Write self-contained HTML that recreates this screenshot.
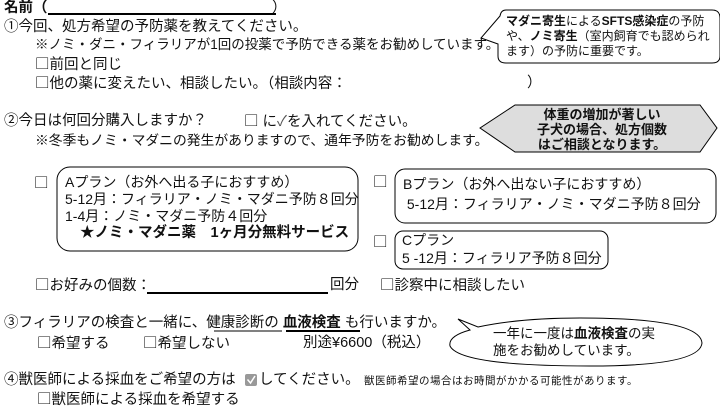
<!DOCTYPE html>
<html><head><meta charset="utf-8"><style>
body{margin:0;width:720px;height:405px;background:#fff;position:relative;overflow:hidden;font-family:"Liberation Sans","Noto Sans CJK JP",sans-serif;color:#111}
.t{position:absolute;font-size:14.5px;white-space:nowrap;line-height:16px}
.m{font-size:14px;line-height:18px}
.c{font-family:"Noto Sans CJK JP",sans-serif}
b{font-weight:bold}
svg{position:absolute;left:0;top:0}
</style></head><body>
<svg width="720" height="405">
<line x1="48" y1="14" x2="276" y2="14" stroke="#000" stroke-width="2"/>
<path d="M506,10 H712 Q720,10 720,18 V56 Q720,63 712,63 H506 Q498,63 498,56 V44 L481,38 L500,16 Q501,10 506,10 Z" fill="#fff" stroke="#000" stroke-width="1"/>
<polygon points="480,128 515,105 700,105 717,128 700,152 515,152" fill="#ddd" stroke="#000" stroke-width="1"/>
<rect x="57" y="167" width="301" height="84" rx="13" fill="none" stroke="#000"/>
<rect x="395" y="169" width="321" height="54" rx="10" fill="none" stroke="#000"/>
<rect x="395" y="231" width="213" height="38" rx="8" fill="none" stroke="#000"/>
<line x1="147" y1="293" x2="328" y2="293" stroke="#000" stroke-width="2"/>
<line x1="214" y1="331" x2="282" y2="331" stroke="#000"/>
<line x1="286" y1="331" x2="360" y2="331" stroke="#000" stroke-width="2"/>
<path d="M458,319 L478,327 Q520,318 580,318 Q700,318 702,343 Q700,366 590,366 Q460,366 450,346 Q448,336 470,330 Z" fill="#fff" stroke="#000"/>
<rect x="245" y="374" width="12" height="12" rx="2" fill="#999"/>
<path d="M247.5,379.5 L250.5,383 L255,376" fill="none" stroke="#fff" stroke-width="1.5"/>
</svg>
<div class="t" style="left:4px;top:0px;font-weight:bold">名前（</div>
<div class="t" style="left:272px;top:0px">）</div>
<div class="t" style="left:4px;top:19px">①今回、処方希望の予防薬を教えてください。</div>
<div class="t" style="left:35px;top:37px;font-size:13.5px">※ノミ・ダニ・フィラリアが1回の投薬で予防できる薬をお勧めしています。</div>
<div class="t" style="left:35px;top:56px"><span class="c">□</span>前回と同じ</div>
<div class="t" style="left:35px;top:75px"><span class="c">□</span>他の薬に変えたい、相談したい。（相談内容：</div>
<div class="t" style="left:527px;top:75px">）</div>
<div class="t" style="left:506px;top:14px;line-height:15px;font-size:12px"><b>マダニ寄生</b>による<b>SFTS感染症</b>の予防<br>や、<b>ノミ寄生</b>（室内飼育でも認められ<br>ます）の予防に重要です。</div>
<div class="t" style="left:4px;top:113px">②今日は何回分購入しますか？</div>
<div class="t" style="left:244px;top:113px"><span class="c">□</span> に<span style="color:#555">✓</span>を入れてください。</div>
<div class="t" style="left:35px;top:133px;font-size:13.8px">※冬季もノミ・マダニの発生がありますので、通年予防をお勧めします。</div>
<div class="t" style="left:522px;top:107px;font-weight:bold;line-height:15px;text-align:center;font-size:13px;width:160px">体重の増加が著しい<br>子犬の場合、処方個数<br>はご相談となります。</div>
<div class="t c" style="left:34px;top:175px">□</div>
<div class="t m" style="left:65px;top:174px;line-height:17px">Aプラン（お外へ出る子におすすめ）<br>5-12月：フィラリア・ノミ・マダニ予防８回分<br>1-4月：ノミ・マダニ予防４回分</div>
<div class="t" style="left:80px;top:225px;font-weight:bold">★ノミ・マダニ薬　1ヶ月分無料サービス</div>
<div class="t c" style="left:373px;top:174px">□</div>
<div class="t m" style="left:403px;top:174px;line-height:20px">Bプラン（お外へ出ない子におすすめ）<br>&nbsp;5-12月：フィラリア・ノミ・マダニ予防８回分</div>
<div class="t c" style="left:373px;top:234px">□</div>
<div class="t m" style="left:402px;top:231px;line-height:18px">Cプラン<br>5 -12月：フィラリア予防８回分</div>
<div class="t" style="left:35px;top:277px"><span class="c">□</span>お好みの個数：</div>
<div class="t" style="left:330px;top:277px">回分</div>
<div class="t" style="left:380px;top:277px"><span class="c">□</span>診察中に相談したい</div>
<div class="t" style="left:4px;top:315px">③フィラリアの検査と一緒に、健康診断の <b>血液検査</b> も行いますか。</div>
<div class="t" style="left:37px;top:335px"><span class="c">□</span>希望する</div>
<div class="t" style="left:143px;top:335px"><span class="c">□</span>希望しない</div>
<div class="t" style="left:303px;top:335px">別途¥6600（税込）</div>
<div class="t" style="left:493px;top:325px;line-height:17px;font-size:13.5px">一年に一度は<b>血液検査</b>の実<br>施をお勧めしています。</div>
<div class="t" style="left:4px;top:372px">④獣医師による採血をご希望の方は</div>
<div class="t" style="left:259px;top:372px">してください。</div>
<div class="t" style="left:364px;top:375px;font-size:10.5px;line-height:12px;letter-spacing:0.5px">獣医師希望の場合はお時間がかかる可能性があります。</div>
<div class="t" style="left:37px;top:391px"><span class="c">□</span>獣医師による採血を希望する</div>
</body></html>
